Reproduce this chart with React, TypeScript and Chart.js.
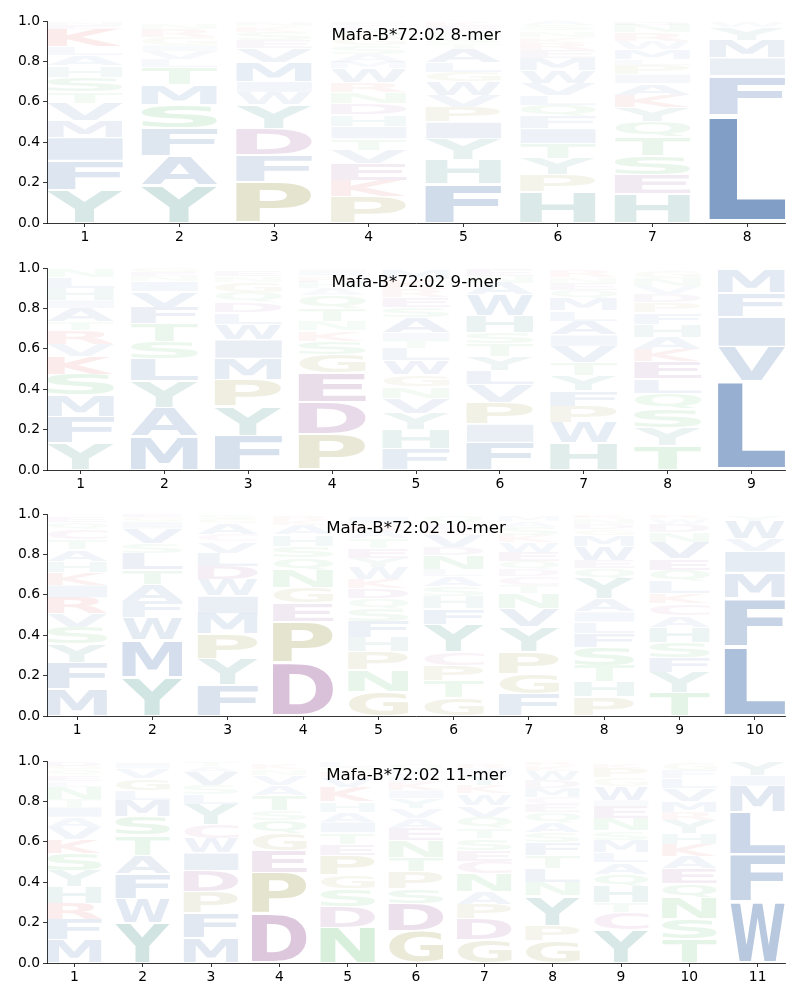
import React, { useEffect, useRef } from "react";
import { Chart, registerables } from "chart.js";

Chart.register(...registerables);

// ---------- data (letters listed bottom -> top, heights in probability units) ----------
const TITLES = [
  "Mafa-B*72:02 8-mer",
  "Mafa-B*72:02 9-mer",
  "Mafa-B*72:02 10-mer",
  "Mafa-B*72:02 11-mer",
];

const LETTERS_8 = [
  "YFIMVTSHALKEN",
  "YAFSMTLVIGRN",
  "PFDYWIMVESKN",
  "PKEVTIHDNRWMASGQCF",
  "FHYIPVWGLATSNEK",
  "HPYTIFQLVWMERKNSA",
  "HESTQYKAIPLMWRND",
  "LFIMYW",
];
const HEIGHTS_8 = [
  [0.165, 0.144, 0.115, 0.083, 0.086, 0.057, 0.071, 0.058, 0.05, 0.044, 0.088, 0.018, 0.015],
  [0.188, 0.145, 0.139, 0.116, 0.095, 0.087, 0.04, 0.04, 0.03, 0.04, 0.04, 0.03],
  [0.205, 0.132, 0.129, 0.119, 0.063, 0.052, 0.097, 0.066, 0.04, 0.04, 0.03, 0.02],
  [0.13, 0.079, 0.084, 0.068, 0.056, 0.061, 0.058, 0.058, 0.054, 0.05, 0.066, 0.033, 0.04, 0.04, 0.04, 0.035, 0.03, 0.015],
  [0.193, 0.121, 0.103, 0.082, 0.074, 0.06, 0.066, 0.047, 0.049, 0.067, 0.03, 0.03, 0.03, 0.025, 0.02],
  [0.152, 0.086, 0.082, 0.074, 0.073, 0.06, 0.055, 0.05, 0.06, 0.065, 0.06, 0.04, 0.035, 0.03, 0.03, 0.025, 0.02],
  [0.145, 0.093, 0.093, 0.093, 0.076, 0.071, 0.062, 0.059, 0.043, 0.047, 0.03, 0.05, 0.04, 0.04, 0.04, 0.015],
  [0.535, 0.195, 0.088, 0.088, 0.065, 0.025],
];

const LETTERS_9 = [
  "YFMSKVRTAIHLN",
  "MAYLSTFVINEG",
  "FYPMIWLDQGNE",
  "PDEGSKNTQAHRI",
  "FHYVNGWLTIASERKM",
  "FIPVLYTSHWANE",
  "HWPFYTVIALMQENR",
  "TYSQLEKAHFPDVNG",
  "LVIFM",
];
const HEIGHTS_9 = [
  [0.134, 0.13, 0.105, 0.104, 0.089, 0.061, 0.067, 0.042, 0.068, 0.04, 0.06, 0.055, 0.042],
  [0.164, 0.144, 0.132, 0.109, 0.086, 0.088, 0.083, 0.078, 0.049, 0.025, 0.02, 0.019],
  [0.17, 0.146, 0.13, 0.106, 0.093, 0.078, 0.058, 0.05, 0.05, 0.05, 0.03, 0.03],
  [0.176, 0.161, 0.145, 0.091, 0.066, 0.051, 0.045, 0.065, 0.064, 0.035, 0.033, 0.03, 0.03],
  [0.105, 0.095, 0.08, 0.075, 0.058, 0.058, 0.07, 0.06, 0.04, 0.04, 0.075, 0.05, 0.05, 0.04, 0.05, 0.045],
  [0.137, 0.09, 0.107, 0.087, 0.07, 0.07, 0.065, 0.055, 0.085, 0.1, 0.06, 0.035, 0.035],
  [0.134, 0.1, 0.082, 0.078, 0.074, 0.065, 0.08, 0.055, 0.07, 0.05, 0.06, 0.04, 0.035, 0.03, 0.035],
  [0.12, 0.09, 0.09, 0.08, 0.07, 0.085, 0.061, 0.061, 0.063, 0.058, 0.05, 0.04, 0.04, 0.04, 0.035],
  [0.44, 0.17, 0.148, 0.119, 0.117],
];

const LETTERS_10 = [
  "MFYSVRIKHATCQE",
  "YMWFATLSVIGE",
  "FYPMIWDLVCAGS",
  "DPEGNQSHAKR",
  "GNPHFSQDKWYETARI",
  "GTPCYFHSALNDVKEQ",
  "FGPYVNTCDQEWKSAM",
  "PHTSFLIAYQEWMGDNK",
  "TYFSHACKLQEVNDWR",
  "LFMIVWY",
];
const HEIGHTS_10 = [
  [0.134, 0.132, 0.092, 0.082, 0.066, 0.08, 0.062, 0.064, 0.052, 0.059, 0.049, 0.05, 0.035, 0.03],
  [0.192, 0.183, 0.11, 0.08, 0.087, 0.071, 0.083, 0.049, 0.072, 0.036, 0.02, 0.015],
  [0.152, 0.128, 0.126, 0.1, 0.088, 0.08, 0.066, 0.066, 0.058, 0.036, 0.055, 0.02, 0.02],
  [0.264, 0.205, 0.091, 0.075, 0.088, 0.061, 0.055, 0.058, 0.05, 0.025, 0.02],
  [0.122, 0.104, 0.091, 0.073, 0.079, 0.063, 0.05, 0.05, 0.045, 0.06, 0.045, 0.05, 0.045, 0.04, 0.035, 0.035],
  [0.089, 0.086, 0.075, 0.067, 0.137, 0.078, 0.06, 0.05, 0.05, 0.035, 0.07, 0.04, 0.06, 0.03, 0.03, 0.035],
  [0.11, 0.1, 0.106, 0.124, 0.092, 0.074, 0.04, 0.045, 0.035, 0.04, 0.045, 0.05, 0.035, 0.04, 0.03, 0.03],
  [0.094, 0.076, 0.08, 0.09, 0.07, 0.056, 0.05, 0.064, 0.1, 0.05, 0.04, 0.07, 0.055, 0.03, 0.025, 0.03, 0.015],
  [0.116, 0.1, 0.075, 0.075, 0.074, 0.058, 0.058, 0.05, 0.059, 0.058, 0.056, 0.083, 0.048, 0.04, 0.03, 0.015],
  [0.345, 0.238, 0.127, 0.106, 0.06, 0.09, 0.03],
];

const LETTERS_11 = [
  "MFRHYSKVAITNLEQGD",
  "YWFATSMLGVI",
  "MFPDIWCYLSVAT",
  "DPEGQSTAVNK",
  "NDSGPETIAHKVRQL",
  "GDSPTNEAVYIKLWQ",
  "GDPANCESTQVWKYIR",
  "GPYNLTFSAQECMDWKR",
  "YCTHQALMSNEIWGPK",
  "TSNQEAKHYRMVLFG",
  "WFLMIY",
];
const HEIGHTS_11 = [
  [0.115, 0.1, 0.081, 0.08, 0.079, 0.086, 0.071, 0.06, 0.05, 0.05, 0.04, 0.06, 0.03, 0.03, 0.025, 0.02, 0.02],
  [0.197, 0.123, 0.121, 0.092, 0.099, 0.091, 0.083, 0.049, 0.059, 0.049, 0.03],
  [0.126, 0.124, 0.103, 0.104, 0.088, 0.072, 0.068, 0.1, 0.048, 0.047, 0.066, 0.03, 0.02],
  [0.242, 0.207, 0.108, 0.083, 0.066, 0.05, 0.074, 0.05, 0.05, 0.03, 0.025],
  [0.176, 0.104, 0.087, 0.067, 0.098, 0.057, 0.056, 0.053, 0.05, 0.05, 0.072, 0.05, 0.025, 0.025, 0.025],
  [0.16, 0.135, 0.073, 0.084, 0.071, 0.083, 0.06, 0.05, 0.05, 0.05, 0.04, 0.04, 0.03, 0.03, 0.03],
  [0.117, 0.1, 0.074, 0.062, 0.088, 0.062, 0.054, 0.058, 0.05, 0.058, 0.058, 0.057, 0.04, 0.055, 0.03, 0.02],
  [0.11, 0.075, 0.147, 0.068, 0.066, 0.064, 0.065, 0.05, 0.049, 0.05, 0.04, 0.035, 0.045, 0.04, 0.045, 0.03, 0.015],
  [0.163, 0.086, 0.051, 0.08, 0.06, 0.058, 0.049, 0.061, 0.046, 0.062, 0.06, 0.03, 0.07, 0.04, 0.05, 0.02],
  [0.12, 0.097, 0.105, 0.07, 0.074, 0.06, 0.059, 0.055, 0.066, 0.039, 0.055, 0.064, 0.049, 0.04, 0.035],
  [0.303, 0.232, 0.213, 0.129, 0.05, 0.07],
];

const Y_TICKS = [0, 0.2, 0.4, 0.6, 0.8, 1.0];

const PANELS = [
  { title: TITLES[0], letters: LETTERS_8, heights: HEIGHTS_8 },
  { title: TITLES[1], letters: LETTERS_9, heights: HEIGHTS_9 },
  { title: TITLES[2], letters: LETTERS_10, heights: HEIGHTS_10 },
  { title: TITLES[3], letters: LETTERS_11, heights: HEIGHTS_11 },
];

// ---------- styling ----------
const GROUP_COLORS: Record<string, [number, number, number]> = {
  hydrophobic: [40, 90, 160],
  aromaticPolar: [40, 130, 120],
  special: [140, 135, 40],
  acidic: [125, 45, 125],
  basic: [210, 50, 50],
  polar: [50, 170, 70],
  cys: [170, 80, 150],
};
const LETTER_GROUP: Record<string, string> = {
  A: "hydrophobic", V: "hydrophobic", I: "hydrophobic", L: "hydrophobic",
  M: "hydrophobic", F: "hydrophobic", W: "hydrophobic",
  Y: "aromaticPolar", H: "aromaticPolar",
  P: "special", G: "special",
  D: "acidic", E: "acidic",
  K: "basic", R: "basic",
  S: "polar", T: "polar", N: "polar", Q: "polar",
  C: "cys",
};

const VPAD = 0.07;
const LETTER_WIDTH = 0.8;
const CANVAS_TOPS = [0, 247, 493, 740];
const CANVAS_H = 247;
const FONT = '"DejaVu Sans", sans-serif';

function letterColor(ch: string, h: number) {
  const rgb = GROUP_COLORS[LETTER_GROUP[ch] || "hydrophobic"];
  const a = Math.max(0.03, Math.min(1, 1.1 * h));
  return `rgba(${rgb[0]},${rgb[1]},${rgb[2]},${a.toFixed(3)})`;
}

function drawGlyph(ctx: CanvasRenderingContext2D, ch: string, x0: number, y0: number, w: number, h: number, color: string) {
  if (w <= 0 || h <= 0) return;
  ctx.save();
  ctx.font = `bold 100px ${FONT}`;
  ctx.textAlign = "left";
  ctx.textBaseline = "alphabetic";
  const m = ctx.measureText(ch);
  const gw = m.actualBoundingBoxLeft + m.actualBoundingBoxRight;
  const gh = m.actualBoundingBoxAscent + m.actualBoundingBoxDescent;
  ctx.translate(x0, y0);
  ctx.scale(w / gw, h / gh);
  ctx.fillStyle = color;
  ctx.fillText(ch, m.actualBoundingBoxLeft, m.actualBoundingBoxAscent);
  ctx.restore();
}

function makeLogoPlugin(panel: { title: string; letters: string[]; heights: number[][] }) {
  return {
    id: "logoLetters",
    afterDatasetsDraw(chart: any) {
      const { ctx, chartArea } = chart;
      const xs = chart.scales.x;
      const ys = chart.scales.y;
      ctx.save();
      panel.letters.forEach((col, i) => {
        const pos = i + 1;
        const left = xs.getPixelForValue(pos - LETTER_WIDTH / 2);
        const right = xs.getPixelForValue(pos + LETTER_WIDTH / 2);
        let base = 0;
        for (let k = 0; k < col.length; k++) {
          const h = panel.heights[i][k];
          const lo = base + (h * VPAD) / 2;
          const hi = base + h - (h * VPAD) / 2;
          const top = ys.getPixelForValue(hi);
          const bottom = ys.getPixelForValue(lo);
          drawGlyph(ctx, col[k], left, top, right - left, bottom - top, letterColor(col[k], h));
          base += h;
        }
      });
      ctx.font = `16.67px ${FONT}`;
      ctx.fillStyle = "#000";
      ctx.textAlign = "center";
      ctx.textBaseline = "middle";
      ctx.fillText(panel.title, (chartArea.left + chartArea.right) / 2, chartArea.top + 15);
      ctx.restore();
    },
  };
}

function LogoPanel({ index }: { index: number }) {
  const ref = useRef<HTMLCanvasElement | null>(null);
  useEffect(() => {
    const panel = PANELS[index];
    const n = panel.letters.length;
    const positions = panel.letters.map((_, i) => i + 1);
    const tickFont = { family: FONT, size: 13.89 };
    const chart = new Chart(ref.current as HTMLCanvasElement, {
      type: "scatter",
      data: { datasets: [{ data: [] }] },
      options: {
        animation: false,
        responsive: false,
        maintainAspectRatio: false,
        layout: { padding: { top: 21, right: 15, left: 0, bottom: 0 } },
        plugins: { legend: { display: false }, tooltip: { enabled: false }, title: { display: false } },
        scales: {
          x: {
            type: "linear",
            min: 0.6,
            max: n + 0.4,
            afterBuildTicks: (s: any) => {
              s.ticks = positions.map((v) => ({ value: v }));
            },
            afterFit: (s: any) => {
              s.height = 24;
            },
            grid: { display: true, drawOnChartArea: false, drawTicks: true, tickLength: 4, color: "#000", lineWidth: 0.8 },
            border: { display: true, color: "#000", width: 0.8 },
            ticks: {
              color: "#000",
              font: tickFont,
              padding: 2,
              maxRotation: 0,
              autoSkip: false,
              callback: (v: any) => String(v),
            },
          },
          y: {
            type: "linear",
            min: 0,
            max: 1,
            afterBuildTicks: (s: any) => {
              s.ticks = Y_TICKS.map((v) => ({ value: v }));
            },
            afterFit: (s: any) => {
              s.width = 47;
            },
            grid: { display: true, drawOnChartArea: false, drawTicks: true, tickLength: 4, color: "#000", lineWidth: 0.8 },
            border: { display: true, color: "#000", width: 0.8 },
            ticks: {
              color: "#000",
              font: tickFont,
              padding: 3,
              autoSkip: false,
              callback: (v: any) => Number(v).toFixed(1),
            },
          },
        },
      },
      plugins: [makeLogoPlugin(panel)],
    } as any);
    return () => chart.destroy();
  }, [index]);
  return (
    <canvas
      ref={ref}
      width={800}
      height={CANVAS_H}
      style={{ position: "absolute", left: 0, top: CANVAS_TOPS[index], width: 800, height: CANVAS_H }}
    />
  );
}

export default function App() {
  return (
    <div style={{ position: "absolute", left: 0, top: 0, width: 800, height: 1000, background: "#fff" }}>
      {PANELS.map((_, i) => (
        <LogoPanel key={i} index={i} />
      ))}
    </div>
  );
}
